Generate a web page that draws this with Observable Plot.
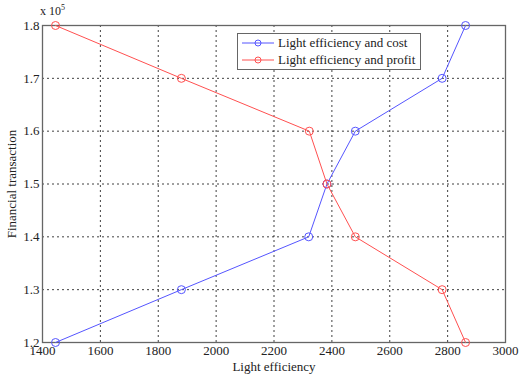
<!DOCTYPE html>
<html>
<head>
<meta charset="utf-8">
<script src="https://cdn.jsdelivr.net/npm/d3@7"></script>
<script src="https://cdn.jsdelivr.net/npm/@observablehq/plot@0.6"></script>
<style>
  body { margin: 0; background: #fff; }
  #wrap { position: relative; width: 519px; height: 374px; font-family: "Liberation Serif", "Times New Roman", serif; }
  #wrap svg text { font-family: "Liberation Serif", "Times New Roman", serif; }
  #legend { position: absolute; left: 237px; top: 33px; width: 182px; height: 35px; border: 1px solid #666; background: #fff; font-size: 13px; color: #222; }
  #legend .row { display: flex; align-items: center; height: 17px; }
  #legend svg { margin-left: 4px; margin-right: 4px; }
  #exp { position: absolute; left: 40px; top: 3px; font-size: 12px; color: #222; }
</style>
</head>
<body>
<div id="wrap"></div>
<script>
const seriesNames = ["Light efficiency and cost", "Light efficiency and profit"];
const seriesColors = ["#5555ff", "#ff5050"];
const costX = [1445, 1880, 2320, 2383, 2481, 2781, 2862];
const costY = [1.2, 1.3, 1.4, 1.5, 1.6, 1.7, 1.8];
const profitX = [1445, 1880, 2322, 2383, 2481, 2781, 2862];
const profitY = [1.8, 1.7, 1.6, 1.5, 1.4, 1.3, 1.2];
const xTicks = [1400, 1600, 1800, 2000, 2200, 2400, 2600, 2800, 3000];
const yTicks = [1.2, 1.3, 1.4, 1.5, 1.6, 1.7, 1.8];

const cost = costX.map((x, i) => ({x, y: costY[i], s: seriesNames[0]}));
const profit = profitX.map((x, i) => ({x, y: profitY[i], s: seriesNames[1]}));

const serif = '"Liberation Serif", "Times New Roman", serif';

const chart = Plot.plot({
  width: 519,
  height: 374,
  marginLeft: 42,
  marginRight: 14,
  marginTop: 25,
  marginBottom: 32,
  style: {fontFamily: serif, fontSize: "13px", color: "#222", background: "#fff"},
  x: {domain: [1400, 3000]},
  y: {domain: [1.2, 1.8]},
  marks: [
    Plot.gridX(xTicks, {stroke: "#000", strokeOpacity: 0.75, strokeDasharray: "2,3"}),
    Plot.gridY(yTicks, {stroke: "#000", strokeOpacity: 0.75, strokeDasharray: "2,3"}),
    Plot.frame({stroke: "#666", strokeWidth: 1.3}),
    Plot.axisX(xTicks, {tickSize: 0, tickPadding: 3, tickFormat: d => String(d), label: "Light efficiency", labelAnchor: "center", labelArrow: "none", labelOffset: 28, fontSize: 13, fontFamily: serif}),
    Plot.axisY(yTicks, {tickSize: 0, tickPadding: 3, tickFormat: d => d.toFixed(1), label: "Financial transaction", labelAnchor: "center", labelArrow: "none", labelOffset: 36, fontSize: 13, fontFamily: serif}),
    Plot.line(cost, {x: "x", y: "y", stroke: seriesColors[0], strokeWidth: 1}),
    Plot.dot(cost, {x: "x", y: "y", stroke: seriesColors[0], r: 4, strokeWidth: 1}),
    Plot.line(profit, {x: "x", y: "y", stroke: seriesColors[1], strokeWidth: 1}),
    Plot.dot(profit, {x: "x", y: "y", stroke: seriesColors[1], r: 4, strokeWidth: 1})
  ]
});

const wrap = document.getElementById("wrap");
wrap.appendChild(chart);

const exp = document.createElement("div");
exp.id = "exp";
exp.innerHTML = "x 10<sup style='font-size:8px'>5</sup>";
wrap.appendChild(exp);

const legend = document.createElement("div");
legend.id = "legend";
seriesNames.forEach((name, i) => {
  const row = document.createElement("div");
  row.className = "row";
  row.innerHTML = `<svg width="32" height="10"><line x1="0" y1="5" x2="32" y2="5" stroke="${seriesColors[i]}" stroke-width="1"/><circle cx="16" cy="5" r="3" fill="none" stroke="${seriesColors[i]}"/></svg><span>${name}</span>`;
  legend.appendChild(row);
});
wrap.appendChild(legend);
</script>
</body>
</html>
